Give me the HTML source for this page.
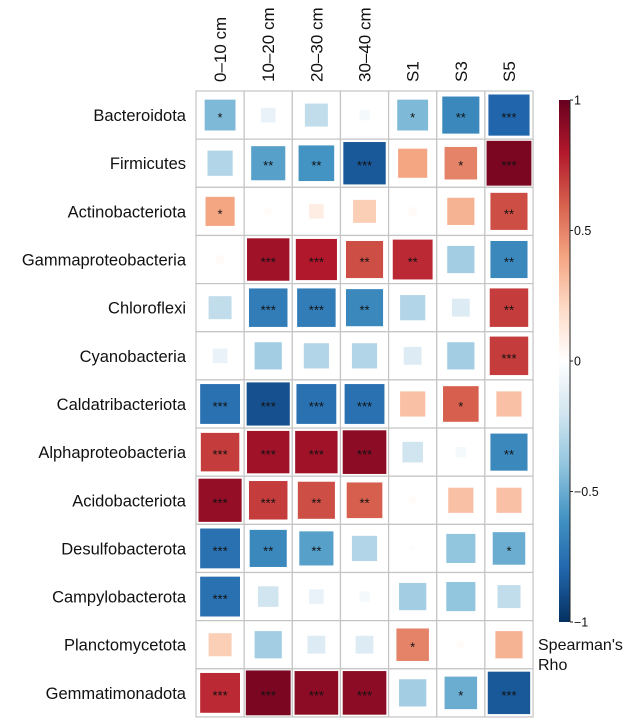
<!DOCTYPE html>
<html><head><meta charset="utf-8"><style>
body{margin:0;background:#fff;}
svg text{font-family:"Liberation Sans",Arial,sans-serif;fill:#111;}
</style></head><body>
<svg id="chart" width="630" height="721" viewBox="0 0 630 721" xmlns="http://www.w3.org/2000/svg">
<defs><linearGradient id="cbgrad" x1="0" y1="1" x2="0" y2="0">
<stop offset="0" stop-color="#053061"/><stop offset="0.1" stop-color="#2166AC"/><stop offset="0.2" stop-color="#4393C3"/><stop offset="0.3" stop-color="#92C5DE"/><stop offset="0.4" stop-color="#D1E5F0"/><stop offset="0.5" stop-color="#FFFFFF"/><stop offset="0.6" stop-color="#FDDBC7"/><stop offset="0.7" stop-color="#F4A582"/><stop offset="0.8" stop-color="#D6604D"/><stop offset="0.9" stop-color="#B2182B"/><stop offset="1" stop-color="#67001F"/>
</linearGradient></defs>
<g id="cells"></g>
<g id="labels"></g>
<g id="legend"></g>
</svg>
<script>
const columns = ["0\u201310 cm","10\u201320 cm","20\u201330 cm","30\u201340 cm","S1","S3","S5"];
const rows = ["Bacteroidota","Firmicutes","Actinobacteriota","Gammaproteobacteria","Chloroflexi","Cyanobacteria","Caldatribacteriota","Alphaproteobacteria","Acidobacteriota","Desulfobacterota","Campylobacterota","Planctomycetota","Gemmatimonadota"];
const rho = [
[-0.45,-0.1,-0.25,-0.05,-0.45,-0.65,-0.8],
[-0.3,-0.55,-0.6,-0.85,0.4,0.5,0.95],
[0.4,0.02,0.1,0.25,0.03,0.35,0.65],
[0.03,0.85,0.8,0.65,0.75,-0.35,-0.65],
[-0.25,-0.7,-0.7,-0.65,-0.3,-0.15,0.7],
[-0.1,-0.35,-0.3,-0.3,-0.15,-0.35,0.7],
[-0.75,-0.88,-0.75,-0.75,0.3,0.6,0.3],
[0.7,0.85,0.85,0.9,-0.2,-0.05,-0.65],
[0.88,0.7,0.65,0.6,0.02,0.3,0.3],
[-0.75,-0.65,-0.55,-0.3,0.01,-0.4,-0.5],
[-0.75,-0.2,-0.1,-0.05,-0.35,-0.4,-0.25],
[0.25,-0.35,-0.15,-0.15,0.5,0.02,0.35],
[0.75,0.95,0.9,0.9,-0.35,-0.5,-0.85]];
const signif = [
["*","","","","*","**","***"],
["","**","**","***","","*","***"],
["*","","","","","","**"],
["","***","***","**","**","","**"],
["","***","***","**","","","**"],
["","","","","","","***"],
["***","***","***","***","","*",""],
["***","***","***","***","","","**"],
["***","***","**","**","","",""],
["***","**","**","","","","*"],
["***","","","","","",""],
["","","","","*","",""],
["***","***","***","***","","*","***"]];
const legendTicks = [1,0.5,0,-0.5,-1];
const legendTickLabels = ["1","0.5","0","\u22120.5","\u22121"];

const X0=196, Y0=91, CW=48.15, CH=48.15;
const xPos = j => X0 + j*CW;
const yPos = i => Y0 + i*CH;
const stops=["#053061","#2166AC","#4393C3","#92C5DE","#D1E5F0","#FFFFFF","#FDDBC7","#F4A582","#D6604D","#B2182B","#67001F"];
function hex(c){return [1,3,5].map(k=>parseInt(c.substr(k,2),16));}
function color(v){const t=(v+1)/2*10;const i=Math.min(9,Math.floor(t));const f=t-i;const a=hex(stops[i]),b=hex(stops[i+1]);return "rgb("+a.map((x,k)=>Math.round(x+(b[k]-x)*f)).join(",")+")";}
const NS="http://www.w3.org/2000/svg";
function mk(tag,attrs,parent){const e=document.createElementNS(NS,tag);for(const k in attrs)e.setAttribute(k,attrs[k]);parent.appendChild(e);return e;}
const cells=document.getElementById("cells"), labels=document.getElementById("labels"), legend=document.getElementById("legend");
rows.forEach((r,i)=>{
  columns.forEach((c,j)=>{
    const cell=mk("rect",{x:xPos(j),y:yPos(i),width:CW,height:CH,fill:"#fff",stroke:"#c4c4c4","stroke-width":1.2},cells);
    
    
    const v=rho[i][j], s=46*Math.sqrt(Math.abs(v));
    const sq=mk("rect",{x:xPos(j)+CW/2-s/2,y:yPos(i)+CH/2-s/2,width:s,height:s,fill:color(v)},cells);
    
    
    if(signif[i][j]){
      const t=mk("text",{x:xPos(j)+CW/2,y:yPos(i)+CH/2+7,"text-anchor":"middle","font-size":13},cells);
      t.textContent=signif[i][j];
      
      
    }
  });
  const lt=mk("text",{x:186,y:yPos(i)+CH/2+6,"text-anchor":"end","font-size":16.5},labels);
  lt.textContent=r;
  
  
});
columns.forEach((c,j)=>{
  const cx=xPos(j)+CW/2+6;
  const t=mk("text",{x:cx,y:82,"font-size":17,transform:"rotate(-90 "+cx+" 82)"},labels);
  t.textContent=c;
  
  
});
const CB_X=559, CB_W=11, CB_TOP=100, CB_BOT=622;
const cbY=v=>CB_TOP+(1-v)/2*(CB_BOT-CB_TOP);
const bar=mk("rect",{x:CB_X,y:CB_TOP,width:CB_W,height:CB_BOT-CB_TOP,fill:"url(#cbgrad)"},legend);


mk("line",{x1:CB_X+CB_W,y1:CB_TOP,x2:CB_X+CB_W,y2:CB_BOT,stroke:"#222","stroke-width":1},legend);
legendTicks.forEach((v,k)=>{
  mk("line",{x1:CB_X+CB_W,y1:cbY(v),x2:CB_X+CB_W+3,y2:cbY(v),stroke:"#222"},legend);
  const t=mk("text",{x:CB_X+CB_W+4,y:cbY(v)+4.5,"font-size":12.5},legend);
  t.textContent=legendTickLabels[k];
  
  
});
const lt1=mk("text",{x:538,y:650,"font-size":16},legend); lt1.textContent="Spearman's";


const lt2=mk("text",{x:538,y:670,"font-size":16},legend); lt2.textContent="Rho";


</script>
</body></html>
